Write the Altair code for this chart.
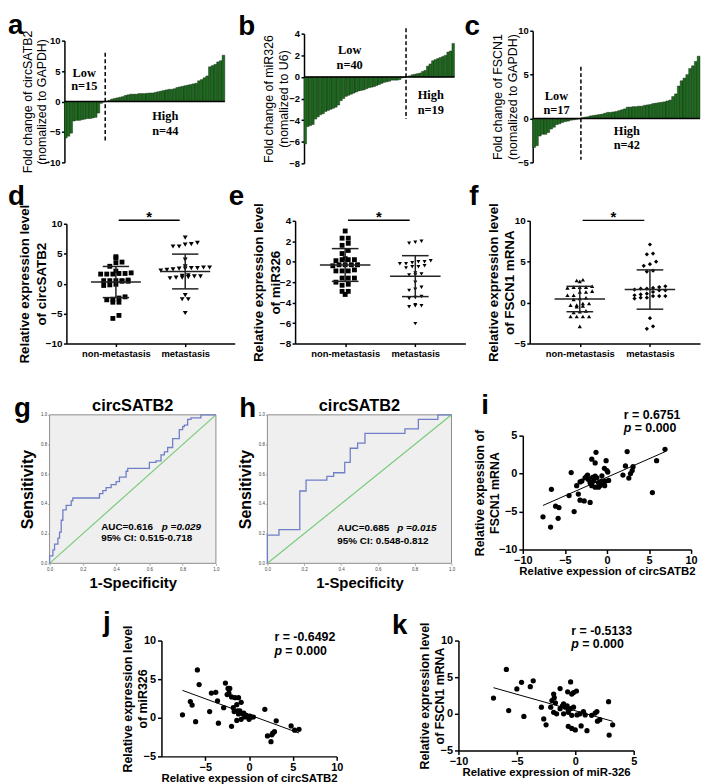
import altair as alt
import pandas as pd

FONT = "Liberation Sans"
SERIF = "Liberation Serif"
GREEN = "#1e6a1e"
BLUE = "#6f7fc6"
LGREEN = "#7acc7a"

# ---------------- data ----------------
a_low = [-6.0, -5.7, -5.2, -3.2, -3.1, -3.1, -3.0, -2.9, -2.8, -2.8, -2.7, -2.6, -1.9, -0.3, -0.1]
a_high = [0.05, 0.2, 0.4, 0.5, 0.6, 0.7, 0.8, 1.0, 1.1, 1.2, 1.2, 1.2, 1.3, 1.3, 1.3, 1.35, 1.4, 1.4, 1.5, 1.6,
          1.7, 1.8, 1.9, 2.0, 2.0, 2.1, 2.3, 2.4, 2.5, 2.6, 2.7, 2.8, 2.9, 3.0, 3.4, 3.6, 3.9, 4.2, 5.7, 5.9,
          6.1, 6.5, 6.7, 7.6]
b_low = [-6.2, -4.6, -4.5, -4.4, -3.9, -3.7, -3.5, -3.4, -3.2, -3.1, -3.0, -2.9, -2.8, -2.6, -2.2, -2.0, -1.8,
         -1.7, -1.6, -1.5, -1.4, -1.3, -1.25, -1.2, -1.1, -1.0, -0.95, -0.9, -0.8, -0.7, -0.6, -0.5, -0.45,
         -0.4, -0.3, -0.3, -0.3, -0.25, -0.1, -0.05]
b_high = [0.05, 0.1, 0.2, 0.25, 0.3, 0.35, 0.5, 0.6, 1.0, 1.2, 1.5, 1.6, 1.7, 1.8, 1.9, 2.0, 2.3, 2.4, 3.1]
c_low = [-3.3, -3.1, -2.0, -1.8, -1.8, -1.6, -1.2, -1.0, -0.7, -0.6, -0.45, -0.35, -0.3, -0.2, -0.15, -0.1, -0.05]
c_high = [0.1, 0.15, 0.2, 0.3, 0.35, 0.4, 0.45, 0.5, 0.6, 0.7, 0.7, 0.75, 0.8, 0.9, 1.0, 1.1, 1.3, 1.3, 1.35,
          1.35, 1.4, 1.4, 1.5, 1.55, 1.6, 1.7, 1.75, 1.8, 1.85, 1.9, 2.0, 2.1, 2.5, 2.8, 3.7, 4.3, 4.6, 5.0,
          5.7, 6.0, 6.5, 7.1]

d_non = [4.5, 4.3, 3.6, 3.5, 2.9, 2.1, 1.7, 1.6, 1.6, 1.7, 1.6, 1.8, 0.6, 0.5, 0.4, 0.5, 0.5, 0.4, 0.5,
         -0.2, -0.3, -0.1, -2.4, -2.6, -2.7, -2.2, -3.1, -3.1, -5.3, -5.8]
d_met = [7.7, 6.8, 6.6, 6.5, 6.2, 6.2, 4.0, 2.9, 2.7, 2.6, 2.5, 2.4, 2.7, 2.6, 2.5, 2.3, 2.2, 1.3, 1.0, 1.2,
         0.9, 1.1, 1.2, 1.0, 1.4, -1.9, -2.6, -2.6, -4.9]
d_mean = [0.27, 2.03]
d_sd = [2.6, 2.9]
e_non = [3.0, 2.3, 2.3, 1.8, 1.6, 1.1, 0.8, 0.3, 0.2, 0.2, 0.1, 0.2, -0.3, -0.3, -0.4, -0.3, -0.3, -0.9, -0.8,
         -0.9, -0.9, -1.6, -1.6, -1.6, -2.2, -2.3, -2.0, -2.9, -3.2, -2.9]
e_met = [2.0, 1.9, 1.8, 0.1, 0.0, -0.2, -0.4, -0.2, -0.1, 0.0, -0.5, -0.6, -0.5, -1.1, -1.2, -1.3, -1.3, -2.0,
         -2.5, -2.7, -2.8, -3.6, -3.4, -3.5, -4.3, -4.3, -4.4, -4.2, -6.05]
e_mean = [-0.32, -1.41]
e_sd = [1.6, 2.0]
f_non = [2.8, 2.7, 2.6, 2.0, 1.9, 1.9, 1.8, 1.9, 1.4, 1.3, 1.3, 0.9, 0.9, 0.6, 0.5, 0.4, -0.1, -0.3, -0.5,
         -0.3, -0.1, -0.4, -1.0, -1.2, -1.1, -1.7, -1.7, -1.7, -1.7, -2.9]
f_met = [7.1, 6.0, 5.9, 5.0, 4.7, 4.5, 3.9, 3.8, 2.0, 1.9, 1.6, 1.8, 1.7, 1.5, 1.7, 1.5, 1.3, 1.0, 0.8, 0.6,
         0.8, 0.9, 0.5, 0.6, 0.8, 1.1, -1.9, -2.9, -3.2]
f_mean = [0.44, 1.6]
f_sd = [1.55, 2.4]
groups = ["non-metastasis", "metastasis"]

g_fpr = [0, 0.02, 0.03, 0.05, 0.06, 0.07, 0.08, 0.10, 0.13, 0.14, 0.30, 0.32, 0.34, 0.37, 0.40, 0.42, 0.46,
         0.47, 0.60, 0.64, 0.67, 0.69, 0.71, 0.74, 0.78, 0.80, 0.81, 0.83, 0.85, 0.91]
g_tpr = [0.05, 0.09, 0.13, 0.17, 0.21, 0.29, 0.36, 0.39, 0.42, 0.44, 0.47, 0.49, 0.51, 0.53, 0.55, 0.58, 0.62,
         0.64, 0.68, 0.69, 0.73, 0.75, 0.78, 0.84, 0.90, 0.92, 0.93, 0.97, 0.98, 1.0]
h_fpr = [0, 0.063, 0.176, 0.21, 0.323, 0.36, 0.42, 0.45, 0.49, 0.53, 0.747, 0.82, 0.926]
h_tpr = [0.19, 0.227, 0.487, 0.56, 0.586, 0.61, 0.68, 0.775, 0.81, 0.875, 0.905, 0.97, 1.0]

i_x = [-7.6, -6.7, -6.6, -6.1, -5.7, -5.8, -4.5, -4.25, -3.9, -3.6, -3.4, -3.2, -2.7, -2.0, -1.8, -1.4, -1.3,
       -0.1, 0.0, 0.1, -0.3, 2.4, 2.2, 1.9, 2.6, 2.8, 3.0, 3.1, 5.9, 5.4, 6.9, -2.98, -2.6, -2.4, -2.2, -2.0,
       -1.8, -1.6, -1.4, -1.2, -1.0, -0.85, -0.66, -0.47, -0.27, -1.0, -1.4, -3.2, -2.3, -0.6, -1.7, 0.2, -0.2]
i_y = [-5.7, -7.05, -2.08, -4.3, -4.5, -5.9, -2.9, 0.13, -5.0, -1.6, -2.7, -3.5, -3.6, -3.8, 1.9, 1.4, 2.8,
       1.7, 0.4, 0.2, 0.7, 2.9, 1.0, -0.2, -0.6, 0.0, 0.4, 0.9, 1.7, -2.5, 3.2, -0.99, -0.56, -0.35, -0.78,
       -1.2, -1.6, -0.99, -0.35, -0.56, -1.2, -1.6, -0.99, -1.4, -1.6, -1.8, -1.8, -1.1, -0.2, -0.3, -0.5,
       -0.9, -1.0]
j_x = [-7.6, -6.7, -6.5, -6.1, -5.9, -5.7, -4.5, -4.3, -3.8, -3.6, -3.5, -2.9, -2.7, -2.4, -2.3, -2.5, -2.2,
       -2.0, -1.8, -1.7, -2.0, -1.6, -1.4, -1.3, -1.2, -1.4, -0.9, -1.05, -0.7, -0.5, -0.3, -0.1, 0.1, 0.3,
       -1.2, -0.9, 1.8, 2.1, 2.5, 2.7, 2.9, 3.1, 4.8, 5.2, 5.7, 0.0, 0.5, -0.6, 2.6]
j_y = [0.38, 2.1, 1.65, -0.5, 6.2, 4.3, 0.8, 3.2, 3.3, 2.2, -0.7, 1.3, 4.5, 3.8, 3.2, 3.0, 3.8, 2.7, 1.3, 0.8,
       -1.1, 2.6, 1.7, 0.9, 0.5, -0.35, -0.2, 0.9, 0.5, 0.1, 0.3, 0.1, 0.2, 0.1, 2.6, 2.0, 1.1, -2.35, -3.1,
       -2.0, -1.8, -0.4, -1.05, -1.6, -1.5, -0.2, 0.1, 0.6, -2.2]
k_x = [-7.0, -5.9, -5.7, -5.0, -4.6, -4.4, -3.85, -3.6, -2.9, -2.7, -2.5, -2.0, -1.85, -1.8, -1.7, -2.1, -1.85,
       -1.6, -1.3, -1.1, -1.3, -1.0, -0.85, -0.7, -0.6, -1.0, -0.6, -0.65, -0.4, -0.3, -0.15, 0.1, -0.4, -0.15,
       -0.3, -0.6, -0.3, 0.0, 0.5, 1.0, 0.15, 0.4, 0.7, 0.85, 1.4, 1.7, 1.85, 1.9, 2.1, 2.85, 2.9, 3.2]
k_y = [2.15, 6.05, 0.45, 3.4, 4.3, -0.36, 3.7, 4.5, 0.9, -0.7, -1.5, 1.8, 2.7, 2.2, 1.5, 0.9, 0.2, 0.0, 3.45,
       1.1, 0.7, 1.35, 0.9, 1.1, 0.45, 0.0, 0.2, 3.0, 4.35, 2.7, 2.9, 3.1, 0.7, 0.9, -0.2, -1.7, -2.0, -2.2,
       -1.65, -2.3, -0.15, 0.0, 0.3, -0.15, -0.2, 0.1, 0.3, -1.0, -0.8, 1.65, -2.9, -1.5]

# ---------------- layout (reference pixel frame) ----------------
POS = {
    'a': (65, 37, 162, 123), 'b': (307, 30, 152, 131), 'c': (538, 27, 169, 133),
    'd': (67, 222, 170, 121), 'e': (298, 219, 172, 124), 'f': (535, 219, 172, 124),
    'g': (50, 411, 168, 150), 'h': (270, 411, 186, 150), 'i': (528, 432, 170, 115),
    'j': (163, 639, 177, 117), 'k': (463, 639, 177, 111),
}
LETTER = {
    'a': (-57, -7), 'b': (-66.5, 1), 'c': (-69, 4), 'd': (-59, -19), 'e': (-67, -16),
    'f': (-61, -16), 'g': (-36, 2), 'h': (-28.5, 2), 'i': (-42, -22), 'j': (-59, -10), 'k': (-67, -7),
}
ROWS = [['a', 'b', 'c'], ['d', 'e', 'f'], ['g', 'h', 'i'], ['j', 'k']]
ROWY = [25, 215, 407, 637]
PITCH_FIX = [-2, 2, -2]
X0 = 49


def geom(ch):
    r = [k for k, row in enumerate(ROWS) if ch in row][0]
    x, y, w, h = POS[ch]
    padt = y - ROWY[r]
    return dict(padt=padt, w=w, h=h, vh=padt + h)


def letter_layer(ch, g):
    dx, dy = LETTER[ch]
    return alt.Chart(pd.DataFrame({'t': [ch]})).mark_text(
        font=FONT, fontSize=28, fontWeight='bold', align='left', baseline='alphabetic', color='black'
    ).encode(text='t:N', x=alt.value(dx), y=alt.value(g['padt'] + dy))


def axis(values, title, tsize=12.5, tweight='bold', lsize=10, tpad=2, lh=None, **kw):
    args = dict(values=values, title=title, grid=False, domainColor='black', domainWidth=1.5,
                tickColor='black', tickWidth=1.5, tickSize=4, labelFont=FONT, labelFontSize=lsize,
                labelFontWeight='bold', labelColor='black', labelPadding=2, labelFlush=False,
                titleFont=FONT, titleFontSize=tsize, titleFontWeight=tweight, titleColor='black',
                titlePadding=tpad, titleLineHeight=lh if lh else tsize * 1.2)
    args.update(kw)
    return alt.Axis(**args)


def xs_scale(dom):
    return alt.Scale(domain=dom, nice=False, zero=False)


def ys_scale(dom, g):
    return alt.Scale(domain=dom, nice=False, zero=False, range=[g['padt'] + g['h'], g['padt']])


def bar_panel(ch, low, high, ydom, yticks, ytitle, dash, labels, tpad):
    g = geom(ch)
    vals = low + high
    n = len(vals)
    df = pd.DataFrame({'x': list(range(n)), 'x2': [k + 1 for k in range(n)], 'y': vals})
    X = alt.X('x:Q', scale=xs_scale([0, n]), axis=None)
    Y = alt.Y('y:Q', scale=ys_scale(ydom, g),
              axis=axis(yticks, ytitle, tsize=12.5, tweight='normal', lsize=9.5, tpad=tpad, lh=15,
                        tickSize=3, labelPadding=1.5))
    bars = alt.Chart(df).mark_bar(color=GREEN, stroke='#0c200c', strokeWidth=0.4).encode(
        x=X, x2='x2:Q', y=Y, y2=alt.datum(0))
    zero = alt.Chart(pd.DataFrame({'x': [0], 'x2': [n], 'y': [0]})).mark_rule(
        color='black', strokeWidth=1.5).encode(x=X, x2='x2:Q', y=Y)
    dd = pd.DataFrame({'x': [len(low)], 'y': [dash[0]], 'y2': [dash[1]]})
    dl = alt.Chart(dd).mark_rule(color='black', strokeWidth=1.5, strokeDash=[4, 2.5]).encode(
        x=X, y=Y, y2='y2:Q')
    ld = pd.DataFrame({'x': [p[0] for p in labels], 'y': [p[1] for p in labels], 't': [p[2] for p in labels]})
    lt = alt.Chart(ld).mark_text(font=SERIF, fontSize=12.5, fontWeight='bold', color='black').encode(
        x=X, y=Y, text='t:N')
    return alt.layer(bars, zero, dl, lt, letter_layer(ch, g)).properties(width=g['w'], height=g['vh'])


def swarm(vals, binw, step):
    offs = [0.0] * len(vals)
    bins = {}
    for k in sorted(range(len(vals)), key=lambda q: vals[q]):
        bins.setdefault(int(round(vals[k] / binw)), []).append(k)
    for ks in bins.values():
        m = len(ks)
        for j, k in enumerate(ks):
            offs[k] = (j - (m - 1) / 2) * step
    return offs


def dot_panel(ch, v0, v1, shapes, sizes, means, sds, ydom, yticks, ytitle, binw, sig_y):
    g = geom(ch)
    X = alt.X('x:Q', scale=xs_scale([-0.714, 1.714]),
              axis=axis([0, 1], None, lsize=9.5, tickSize=3,
                        labelExpr="datum.value == 0 ? '%s' : '%s'" % (groups[0], groups[1])))
    Y = alt.Y('y:Q', scale=ys_scale(ydom, g),
              axis=axis(yticks, ytitle, tsize=13.5, tweight='bold', lsize=10, tpad=-3, lh=17,
                        tickSize=3, labelPadding=1.5))
    layers = []
    for gi, v in enumerate([v0, v1]):
        offs = swarm(v, binw, 0.088)
        df = pd.DataFrame({'x': [gi + o for o in offs], 'y': v})
        layers.append(alt.Chart(df).mark_point(shape=shapes[gi], filled=True, color='black', opacity=1,
                                               size=sizes[gi]).encode(x=X, y=Y))
    segs = {'x': [], 'x2': [], 'y': [], 'y2': []}
    for gi in range(2):
        m, s = means[gi], sds[gi]
        for (xa, xb, ya, yb) in [(gi - 0.36, gi + 0.36, m, m), (gi - 0.19, gi + 0.19, m + s, m + s),
                                 (gi - 0.19, gi + 0.19, m - s, m - s), (gi, gi, m - s, m + s)]:
            segs['x'].append(xa); segs['x2'].append(xb); segs['y'].append(ya); segs['y2'].append(yb)
    sd = alt.Chart(pd.DataFrame(segs)).mark_rule(color='#222', strokeWidth=1.5).encode(
        x=X, x2='x2:Q', y=Y, y2='y2:Q')
    sig = alt.Chart(pd.DataFrame({'x': [0.04], 'x2': [0.92], 'y': [sig_y]})).mark_rule(
        color='black', strokeWidth=1.5).encode(x=X, x2='x2:Q', y=Y)
    star = alt.Chart(pd.DataFrame({'x': [0.48], 'y': [sig_y], 't': ['*']})).mark_text(
        font=FONT, fontSize=15, fontWeight='bold', baseline='alphabetic', dy=2, color='black').encode(
        x=X, y=Y, text='t:N')
    return alt.layer(*layers, sd, sig, star, letter_layer(ch, g)).properties(width=g['w'], height=g['vh'])


def roc_panel(ch, fpr, tpr, auc, ptxt, ci, tpos):
    g = geom(ch)
    xs = [0] + fpr + [1]
    ys = [0] + tpr + [1]
    df = pd.DataFrame({'x': xs, 'y': ys, 'k': list(range(len(xs)))})
    ticks = [0, 0.2, 0.4, 0.6, 0.8, 1.0]
    rax = dict(lsize=4.5, tickSize=2, tickWidth=0.6, tickColor='#777', domain=False, format='.1f',
               labelFontWeight='normal', labelColor='#444', labelPadding=1)
    X = alt.X('x:Q', scale=xs_scale([0, 1]), axis=axis(ticks, '1-Specificity', tsize=15, tpad=5, **rax))
    Y = alt.Y('y:Q', scale=ys_scale([0, 1], g), axis=axis(ticks, 'Sensitivity', tsize=16, tpad=5, **rax))
    bg = alt.Chart(pd.DataFrame({'x': [0], 'x2': [1], 'y': [0], 'y2': [1]})).mark_rect(
        fill='#efefef', stroke='#8c8c8c', strokeWidth=1).encode(x=X, x2='x2:Q', y=Y, y2='y2:Q')
    diag = alt.Chart(pd.DataFrame({'x': [0, 1], 'y': [0, 1]})).mark_line(
        color=LGREEN, strokeWidth=1.2).encode(x=X, y=Y)
    curve = alt.Chart(df).mark_line(color=BLUE, strokeWidth=1.3, interpolate='step-after').encode(
        x=X, y=Y, order='k:Q')
    ax, ay, px, cy = tpos
    t1 = alt.Chart(pd.DataFrame({'x': [ax, ax], 'y': [ay, cy], 't': [auc, ci]})).mark_text(
        font=FONT, fontSize=10, fontWeight='bold', align='left', baseline='middle', color='black').encode(
        x=X, y=Y, text='t:N')
    t2 = alt.Chart(pd.DataFrame({'x': [px], 'y': [ay], 't': [ptxt]})).mark_text(
        font=FONT, fontSize=10, fontWeight='bold', fontStyle='italic', align='left', baseline='middle',
        color='black').encode(x=X, y=Y, text='t:N')
    title = alt.Chart(pd.DataFrame({'x': [0.5], 'y': [1.0], 't': ['circSATB2']})).mark_text(
        font=FONT, fontSize=16.5, fontWeight='bold', baseline='alphabetic', dy=-4, color='black').encode(
        x=X, y=Y, text='t:N')
    return alt.layer(bg, diag, curve, t1, t2, title, letter_layer(ch, g)).properties(
        width=g['w'], height=g['vh'])


def scatter_panel(ch, xs, ys, xdom, xticks, ydom, yticks, xtitle, ytitle, rtxt, tpos, ytpad):
    g = geom(ch)
    df = pd.DataFrame({'x': xs, 'y': ys})
    X = alt.X('x:Q', scale=xs_scale(xdom),
              axis=axis(xticks, xtitle, tsize=11.5, lsize=11, tpad=0, labelPadding=1))
    Y = alt.Y('y:Q', scale=ys_scale(ydom, g), axis=axis(yticks, ytitle, tsize=12.5, lsize=11, tpad=ytpad))
    pts = alt.Chart(df).mark_circle(size=28, color='black', opacity=1).encode(x=X, y=Y)
    reg = alt.Chart(df).transform_regression('x', 'y').mark_line(color='black', strokeWidth=1).encode(x=X, y=Y)
    tx, ry, py = tpos
    t1 = alt.Chart(pd.DataFrame({'x': [tx], 'y': [ry], 't': [rtxt]})).mark_text(
        font=FONT, fontSize=12.5, fontWeight='bold', align='left', baseline='middle', color='black').encode(
        x=X, y=Y, text='t:N')
    t2 = alt.Chart(pd.DataFrame({'x': [tx], 'y': [py], 't': ['p']})).mark_text(
        font=FONT, fontSize=12.5, fontWeight='bold', fontStyle='italic', align='left', baseline='middle',
        color='black').encode(x=X, y=Y, text='t:N')
    t3 = alt.Chart(pd.DataFrame({'x': [tx], 'y': [py], 't': ['= 0.000']})).mark_text(
        font=FONT, fontSize=12.5, fontWeight='bold', align='left', baseline='middle', dx=11,
        color='black').encode(x=X, y=Y, text='t:N')
    return alt.layer(pts, reg, t1, t2, t3, letter_layer(ch, g)).properties(width=g['w'], height=g['vh'])


P = {}
P['a'] = bar_panel('a', a_low, a_high, [-10, 10], [-10, -5, 0, 5, 10],
                   ['Fold change of circSATB2', '(nomalized to GAPDH)'], (8, -6.8),
                   [(7.3, 4.6, 'Low'), (7.3, 2.5, 'n=15'), (37.1, -2.4, 'High'), (37.1, -4.8, 'n=44')], -5)
P['b'] = bar_panel('b', b_low, b_high, [-8, 4], [-8, -6, -4, -2, 0, 2, 4],
                   ['Fold change of miR326', '(nomalized to U6)'], (4.5, -3.9),
                   [(17.9, 2.45, 'Low'), (17.9, 1.07, 'n=40'), (49.7, -1.68, 'High'), (49.7, -3.05, 'n=19')], -2)
P['c'] = bar_panel('c', c_low, c_high, [-5, 10], [-5, 0, 5, 10],
                   ['Fold change of FSCN1', '(nomalized to GAPDH)'], (5.9, -4.7),
                   [(8.4, 2.56, 'Low'), (8.4, 0.98, 'n=17'), (33.2, -1.39, 'High'), (33.2, -3.08, 'n=42')], -2)
P['d'] = dot_panel('d', d_non, d_met, ['square', 'triangle-down'], [24, 24], d_mean, d_sd, [-10, 10],
                   [-10, -5, 0, 5, 10], ['Relative expression level', 'of circSATB2'], 0.8, 10.6)
P['e'] = dot_panel('e', e_non, e_met, ['square', 'triangle-down'], [24, 16], e_mean, e_sd, [-8, 4],
                   [-8, -6, -4, -2, 0, 2, 4], ['Relative expression level', 'of miR326'], 0.45, 4.05)
P['f'] = dot_panel('f', f_non, f_met, ['triangle-up', 'diamond'], [18, 18], f_mean, f_sd, [-5, 10],
                   [-5, 0, 5, 10], ['Relative expression level', 'of FSCN1 mRNA'], 0.6, 10.05)
P['g'] = roc_panel('g', g_fpr, g_tpr, 'AUC=0.616', 'p =0.029', '95% CI:  0.515-0.718',
                   (0.31, 0.247, 0.675, 0.173))
P['h'] = roc_panel('h', h_fpr, h_tpr, 'AUC=0.685', 'p =0.015', '95% CI:  0.548-0.812',
                   (0.38, 0.24, 0.705, 0.153))
P['i'] = scatter_panel('i', i_x, i_y, [-10, 10], [-10, -5, 0, 5, 10], [-10, 5], [-10, -5, 0, 5],
                       'Relative expession of circSATB2', ['Relative expession of', 'FSCN1 mRNA'],
                       'r = 0.6751', (2.0, 7.7, 6.0), -3)
P['j'] = scatter_panel('j', j_x, j_y, [-10, 10], [-5, 0, 5, 10], [-5, 10], [-5, 0, 5, 10],
                       'Relative expession of circSATB2', ['Relative expression level', 'of miR326'],
                       'r = -0.6492', (2.9, 10.5, 8.7), -6)
P['k'] = scatter_panel('k', k_x, k_y, [-10, 5], [-10, -5, 0, 5], [-5, 10], [-5, 0, 5, 10],
                       'Relative expression of miR-326', ['Relative expression level', 'of FSCN1 mRNA'],
                       'r = -0.5133', (-0.34, 11.35, 9.46), -6)


def spacer(w, h=1):
    return alt.Chart(pd.DataFrame({'s': [0]})).mark_point(opacity=0).encode(
        x=alt.value(0), y=alt.value(0)).properties(width=max(w, 0.5), height=h)


SPACING = -100
TOP_EXT = 60
CALIB = 38   # measured extra offset added by the row stacking


def setter(w, top, bottom):
    # invisible rule that fixes the row's vertical extent for the outer stacking
    return alt.Chart(pd.DataFrame({'s': [0]})).mark_rule(opacity=0, strokeWidth=1).encode(
        x=alt.value(0), y=alt.value(top), y2=alt.value(bottom)).properties(width=max(w, 0.5), height=1)


rows = []
for r, names in enumerate(ROWS):
    top = -(TOP_EXT - 0.5) if r > 0 else 0
    if r < len(ROWS) - 1:
        pitch = ROWY[r + 1] - ROWY[r] + PITCH_FIX[r]
        bottom = pitch - SPACING - TOP_EXT - 0.5 - CALIB
    else:
        bottom = 1
    cells = [setter(POS[names[0]][0] - X0, top, bottom)]
    for k, n in enumerate(names):
        cells.append(P[n])
        if k < len(names) - 1:
            nxt = names[k + 1]
            cells.append(spacer(POS[nxt][0] - (POS[n][0] + POS[n][2])))
    rows.append(alt.hconcat(*cells, spacing=0, bounds='flush'))

chart = alt.vconcat(*rows, spacing=SPACING, bounds='full').properties(
    padding={'left': 0, 'top': 0, 'right': 0, 'bottom': 0}
).configure(font=FONT).configure_view(strokeWidth=0)

chart.save("out.html", embed_options={"renderer": "svg", "actions": False})
